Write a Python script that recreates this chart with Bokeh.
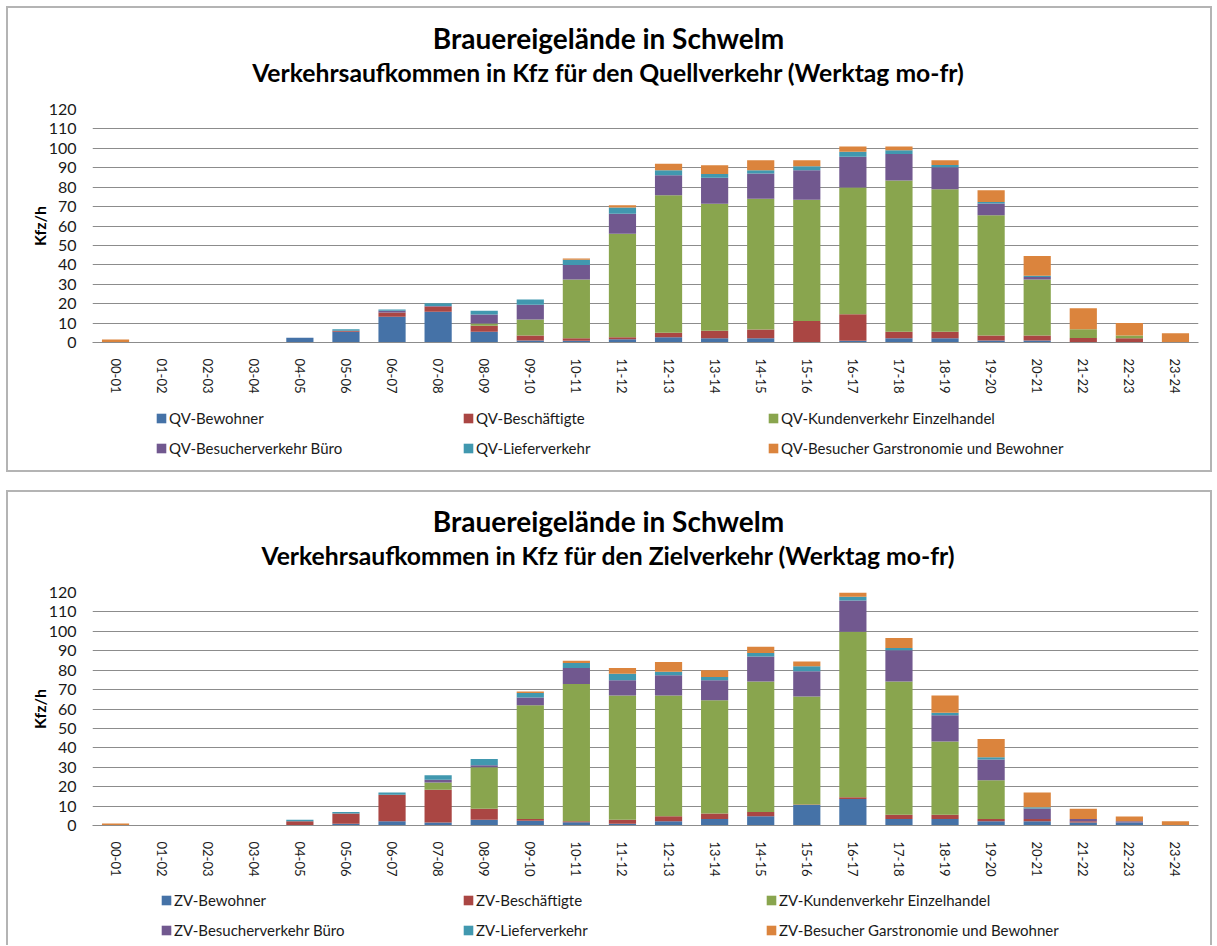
from bokeh.plotting import figure
from bokeh.models import (FactorRange, Range1d, Legend, LegendItem, FixedTicker,
                          ColumnDataSource, Label)
from bokeh.layouts import column
from bokeh.embed import file_html
from bokeh.resources import INLINE

hours = ["00-01", "01-02", "02-03", "03-04", "04-05", "05-06", "06-07", "07-08",
         "08-09", "09-10", "10-11", "11-12", "12-13", "13-14", "14-15", "15-16",
         "16-17", "17-18", "18-19", "19-20", "20-21", "21-22", "22-23", "23-24"]
y_ticks = [0, 10, 20, 30, 40, 50, 60, 70, 80, 90, 100, 110, 120]

# Quellverkehr
qv_bewohner = [0, 0, 0, 0, 2.4, 5.5, 13.2, 15.8, 5.5, 1.0, 0.9, 1.7, 2.7, 2.2, 2.2, 0.2, 0.9, 2.2, 2.2, 1.0, 1.0, 0.3, 0, 0]
qv_beschaeftigte = [0, 0, 0, 0, 0, 0.5, 2.2, 2.7, 3.1, 2.6, 1.3, 1.0, 2.3, 3.8, 4.5, 10.9, 13.7, 3.3, 3.3, 2.6, 2.6, 2.0, 2.2, 0]
qv_kunden = [0, 0, 0, 0, 0, 0, 0, 0, 1.2, 8.2, 30.2, 53.3, 70.9, 65.4, 67.3, 62.4, 65.2, 77.9, 73.4, 62.0, 28.8, 4.5, 1.4, 0]
qv_buero = [0, 0, 0, 0, 0, 0, 0.9, 0.3, 4.6, 7.7, 7.5, 10.3, 10.2, 13.5, 13.0, 15.2, 15.9, 13.7, 11.3, 6.0, 1.3, 0, 0, 0]
qv_liefer = [0, 0, 0, 0, 0, 0.8, 0.7, 1.4, 1.9, 2.6, 2.7, 3.2, 2.6, 1.9, 1.7, 2.1, 2.6, 1.9, 1.2, 0.7, 0.7, 0, 0, 0]
qv_gastro = [1.5, 0, 0, 0, 0, 0, 0, 0, 0, 0, 0.7, 1.2, 3.3, 4.5, 5.1, 3.0, 2.6, 1.9, 2.4, 6.1, 10.1, 10.8, 6.5, 4.8]

# Zielverkehr
zv_bewohner = [0, 0, 0, 0, 0, 0.9, 2.2, 1.5, 2.9, 2.4, 1.7, 0.9, 2.2, 3.4, 4.8, 10.6, 13.7, 3.4, 3.4, 2.2, 2.2, 1.5, 1.5, 0]
zv_beschaeftigte = [0, 0, 0, 0, 2.2, 5.3, 13.6, 16.9, 5.7, 1.0, 0.5, 2.0, 2.6, 2.8, 2.1, 0.2, 0.9, 2.1, 2.1, 1.2, 1.2, 0.7, 0, 0]
zv_kunden = [0, 0, 0, 0, 0, 0, 0, 3.7, 21.4, 58.5, 70.7, 64.0, 62.1, 58.3, 67.2, 55.6, 85.2, 68.6, 37.7, 19.9, 0, 0, 0, 0]
zv_buero = [0, 0, 0, 0, 0, 0, 0, 1.4, 1.0, 4.0, 8.2, 7.9, 10.5, 10.3, 12.9, 13.0, 16.1, 16.1, 13.6, 10.7, 5.3, 1.2, 0.7, 0]
zv_liefer = [0, 0, 0, 0, 0.7, 0.7, 1.2, 2.4, 3.3, 2.4, 2.6, 3.4, 1.8, 1.7, 1.9, 2.6, 1.9, 1.2, 1.3, 1.2, 0.7, 0, 0, 0]
zv_gastro = [1.0, 0, 0, 0, 0, 0, 0, 0, 0, 0.7, 1.2, 2.9, 5.0, 3.4, 3.2, 2.4, 2.2, 5.2, 8.8, 9.4, 7.6, 5.2, 2.4, 2.2]

qv_labels = ["QV-Bewohner", "QV-Beschäftigte", "QV-Kundenverkehr Einzelhandel",
             "QV-Besucherverkehr Büro", "QV-Lieferverkehr", "QV-Besucher Garstronomie und Bewohner"]
zv_labels = ["ZV-Bewohner", "ZV-Beschäftigte", "ZV-Kundenverkehr Einzelhandel",
             "ZV-Besucherverkehr Büro", "ZV-Lieferverkehr", "ZV-Besucher Garstronomie und Bewohner"]

main_title = "Brauereigelände in Schwelm"
qv_subtitle = "Verkehrsaufkommen in Kfz für den Quellverkehr (Werktag mo-fr)"
zv_subtitle = "Verkehrsaufkommen in Kfz für den Zielverkehr (Werktag mo-fr)"
y_label = "Kfz/h"

colors = ["#4572A7", "#AA4643", "#89A54E", "#71588F", "#4198AF", "#DB843D"]
FONT = "Lato"
TXT = "#1a1a1a"
BORDER = "2px solid #b4b4b4"
W = 1206


def blank_fig(height, styles):
    f = figure(width=W, height=height, output_backend="svg", toolbar_location=None,
               x_range=Range1d(0, 1), y_range=Range1d(0, 1), title=None,
               x_axis_location=None, y_axis_location=None, min_border=0,
               outline_line_color=None, background_fill_color="white",
               border_fill_color="white")
    f.grid.visible = False
    f.styles = styles
    return f


def make_block(subtitle, labels, series, title_h, legend_h, leg_cols, leg_y, last):
    # title area (frames of the column are aligned, so x is relative to the plot frame)
    t = blank_fig(title_h, {"border-top": BORDER, "border-left": BORDER,
                            "border-right": BORDER, "box-sizing": "border-box"})
    t.add_layout(Label(x=516, y=61, x_units="screen", y_units="screen", text=main_title,
                       text_align="center", text_baseline="middle", text_font=FONT,
                       text_font_size="28px", text_font_style="bold", text_color="black"))
    t.add_layout(Label(x=516, y=26, x_units="screen", y_units="screen", text=subtitle,
                       text_align="center", text_baseline="middle", text_font=FONT,
                       text_font_size="24.7px", text_font_style="bold", text_color="black"))

    # chart area
    p = figure(x_range=FactorRange(*hours), y_range=Range1d(0, 120),
               width=W, height=304, output_backend="svg", toolbar_location=None,
               min_border_left=84, min_border_right=16, min_border_top=13,
               min_border_bottom=58, outline_line_color=None,
               background_fill_color="white", border_fill_color="white")
    p.styles = {"border-left": BORDER, "border-right": BORDER, "box-sizing": "border-box"}
    keys = ["s%d" % i for i in range(6)]
    data = {"x": hours}
    for k, s in zip(keys, series):
        data[k] = s
    src = ColumnDataSource(data)
    p.vbar_stack(keys, x="x", width=0.59, color=colors, line_color=None, source=src)

    p.ygrid.grid_line_color = "#8c8c8c"
    p.ygrid.grid_line_width = 1
    p.xgrid.grid_line_color = None
    p.yaxis.ticker = FixedTicker(ticks=y_ticks)
    p.yaxis.axis_line_color = None
    p.yaxis.major_tick_line_color = None
    p.yaxis.minor_tick_line_color = None
    p.yaxis.major_tick_out = 0
    p.yaxis.major_tick_in = 0
    p.yaxis.minor_tick_out = 0
    p.yaxis.minor_tick_in = 0
    p.yaxis.major_label_standoff = 16
    p.yaxis.major_label_text_font = FONT
    p.yaxis.major_label_text_font_size = "16px"
    p.yaxis.major_label_text_color = TXT
    p.yaxis.axis_label = y_label
    p.yaxis.axis_label_text_font = FONT
    p.yaxis.axis_label_text_font_size = "16px"
    p.yaxis.axis_label_text_font_style = "bold"
    p.yaxis.axis_label_text_color = "black"
    p.yaxis.axis_label_standoff = -3

    p.xaxis.axis_line_color = "#8c8c8c"
    p.xaxis.major_tick_line_color = None
    p.xaxis.minor_tick_line_color = None
    p.xaxis.major_tick_out = 0
    p.xaxis.major_tick_in = 0
    p.xaxis.minor_tick_out = 0
    p.xaxis.minor_tick_in = 0
    p.xaxis.major_label_orientation = "vertical"
    p.xaxis.major_label_standoff = 16
    p.xaxis.major_label_text_font = FONT
    p.xaxis.major_label_text_font_size = "13px"
    p.xaxis.major_label_text_color = TXT

    # legend area
    lg_styles = {"border-left": BORDER, "border-right": BORDER, "box-sizing": "border-box"}
    if not last:
        lg_styles["border-bottom"] = BORDER
    lg = blank_fig(legend_h, lg_styles)
    proxies = []
    for c in colors:
        src_c = ColumnDataSource({"x": [-5], "top": [0]})
        proxies.append(lg.vbar(x="x", top="top", width=0.1, fill_color=c,
                               line_color=None, source=src_c))
    cols = [[0, 3], [1, 4], [2, 5]]
    for ci, idx in enumerate(cols):
        leg = Legend(items=[LegendItem(label=labels[i], renderers=[proxies[i]]) for i in idx],
                     location=(leg_cols[ci], leg_y), orientation="vertical",
                     glyph_width=12, glyph_height=12, label_height=12, label_standoff=2,
                     spacing=12, padding=0, margin=0, border_line_color=None,
                     background_fill_alpha=0, label_text_font=FONT,
                     label_text_font_size="15px", label_text_color=TXT)
        lg.add_layout(leg)
    return column(t, p, lg, spacing=0)


top = make_block(qv_subtitle, qv_labels,
                 [qv_bewohner, qv_beschaeftigte, qv_kunden, qv_buero, qv_liefer, qv_gastro],
                 90, 72, [63, 370, 675], 15, False)
bot = make_block(zv_subtitle, zv_labels,
                 [zv_bewohner, zv_beschaeftigte, zv_kunden, zv_buero, zv_liefer, zv_gastro],
                 89, 62, [68, 370, 673], 6, True)

layout = column(top, bot, spacing=18)
layout.styles = {"margin-left": "6px", "margin-top": "6px"}
open("out.html", "w").write(file_html(layout, INLINE))
